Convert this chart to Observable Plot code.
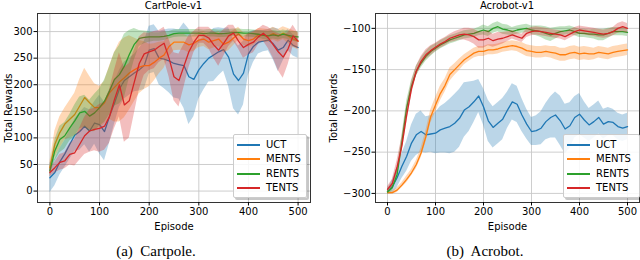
<!DOCTYPE html>
<html><head><meta charset="utf-8">
<script src="https://cdn.jsdelivr.net/npm/d3@7"></script>
<script src="https://cdn.jsdelivr.net/npm/@observablehq/plot@0.6"></script>
<style>
body{margin:0;background:#fff;}
#page{position:relative;width:640px;height:260px;overflow:hidden;font-family:"DejaVu Sans",sans-serif;color:#000;}
.panel{position:absolute;top:0;}
.title{position:absolute;top:0;font-size:10px;line-height:11px;text-align:center;}
.caption{position:absolute;top:244px;font-family:"Liberation Serif",serif;font-size:15px;line-height:15px;text-align:center;white-space:pre;}
.legend{position:absolute;top:134px;height:62px;background:rgba(255,255,255,0.85);border:1px solid #cccccc;border-radius:2px;box-shadow:2px 2px 0 rgba(0,0,0,0.22);font-size:10px;}
.row{position:absolute;left:0;width:100%;height:12px;}
.swatch{position:absolute;left:3px;top:5px;width:23px;height:2px;}
.lab{position:absolute;left:32px;top:0;line-height:12px;}
</style></head>
<body>
<div id="page"></div>
<script>
// ---- data ----
const names = ["UCT", "MENTS", "RENTS", "TENTS"];
const colors = ["#1f77b4", "#ff7f0e", "#2ca02c", "#d62728"];
const episodes = [0,10,20,30,40,50,60,70,80,90,100,110,120,130,140,150,160,170,180,190,200,210,220,230,240,250,260,270,280,290,300,310,320,330,340,350,360,370,380,390,400,410,420,430,440,450,460,470,480,490,500];
const xTicks = [0, 100, 200, 300, 400, 500];
const cartTicks = [0, 50, 100, 150, 200, 250, 300];
const acroTicks = [-300, -250, -200, -150, -100];

// CartPole-v1 : mean and spread
const cartUCT = [25,35,55,70,88,105,112,122,113,128,125,112,140,165,192,208,215,222,228,236,265,268,250,248,245,240,238,236,215,210,228,240,250,256,262,266,252,220,208,222,258,272,280,282,284,277,265,270,284,274,270];
const cartUCTsd = [28,25,25,25,28,30,35,35,40,40,55,55,50,40,35,35,35,35,40,45,45,45,50,55,60,65,65,80,90,70,55,50,45,50,45,40,55,65,65,60,40,30,22,20,20,30,40,25,20,20,20];
const cartMENTS = [44,88,110,126,135,144,160,176,166,157,157,166,185,195,205,213,222,228,233,236,236,242,250,256,272,280,280,280,275,278,284,286,280,283,286,276,280,288,296,286,283,286,294,293,292,296,292,297,292,286,282];
const cartMENTSsd = [10,25,30,30,35,40,50,55,50,45,40,40,50,65,75,75,70,60,50,45,40,35,30,25,20,16,15,15,15,15,14,14,14,14,14,16,16,14,12,12,12,12,12,12,12,12,12,12,14,16,16];
const cartRENTS = [38,76,97,104,119,132,147,150,141,147,157,169,188,210,219,235,257,276,287,289,290,290,290,291,293,296,297,297,297,297,297,296,297,297,296,296,297,298,298,297,297,296,295,293,292,294,292,295,293,291,290];
const cartRENTSsd = [8,20,25,25,25,30,30,30,30,35,35,40,45,50,55,60,45,30,15,12,10,8,8,8,7,7,7,7,7,7,7,7,7,7,7,7,7,7,7,7,7,7,7,8,8,8,8,8,8,9,10];
const cartTENTS = [35,44,54,57,69,72,88,104,113,116,118,122,140,172,200,162,170,205,240,258,262,265,272,278,250,215,208,235,262,280,293,293,288,275,265,278,292,297,282,270,276,280,290,297,288,275,262,252,268,292,282];
const cartTENTSsd = [8,10,15,15,20,25,30,35,40,40,45,45,50,55,60,70,70,60,50,40,35,35,30,30,35,45,50,40,30,20,15,15,20,25,30,25,20,15,15,20,20,20,15,15,20,25,35,40,30,20,15];

// Acrobot-v1 : mean and spread
const acroUCT = [-298,-292,-281,-267,-255,-239,-229,-225,-229,-228,-227,-223,-221,-219,-215,-209,-199,-195,-189,-182,-195,-212,-220,-215,-210,-199,-189,-192,-205,-216,-225,-224,-221,-213,-208,-205,-212,-222,-218,-208,-204,-211,-217,-213,-208,-216,-213,-214,-219,-221,-219];
const acroUCTsd = [3,8,12,15,18,22,25,25,22,22,25,28,30,33,35,35,33,30,25,20,22,25,25,25,25,22,22,22,20,18,17,18,20,22,25,28,30,30,28,25,25,22,20,20,20,18,17,16,16,16,16];
const acroMENTS = [-299,-299,-296,-290,-283,-275,-265,-251,-231,-207,-193,-179,-169,-156,-150,-144,-138,-134,-130,-128,-128,-126,-126,-125,-123,-122,-121,-122,-124,-127,-128,-129,-129,-128,-129,-130,-132,-132,-130,-129,-131,-130,-131,-131,-129,-130,-131,-129,-128,-127,-126];
const acroMENTSsd = [2,2,3,3,4,4,5,6,7,8,9,9,8,8,7,7,6,6,6,6,6,6,6,6,6,6,6,6,7,7,7,7,7,7,7,8,8,8,8,8,8,8,8,7,7,7,7,7,7,7,7];
const acroRENTS = [-298,-293,-277,-238,-196,-170,-152,-142,-134,-128,-124,-120,-117,-114,-112,-110,-108,-107,-106,-104,-102,-104,-100,-98,-101,-102,-104,-102,-101,-100,-102,-103,-104,-106,-108,-106,-104,-103,-102,-104,-106,-106,-107,-107,-108,-108,-106,-104,-104,-104,-105];
const acroRENTSsd = [3,4,6,8,8,7,6,6,6,6,5,5,5,5,5,5,5,5,5,5,6,6,6,6,6,6,5,5,5,5,5,6,7,8,8,7,6,5,5,5,5,5,5,6,7,7,6,5,5,5,5];
const acroTENTS = [-295,-288,-268,-242,-205,-173,-152,-140,-132,-127,-123,-119,-116,-112,-110,-108,-107,-108,-110,-114,-114,-112,-115,-113,-112,-110,-108,-110,-112,-106,-104,-103,-104,-105,-106,-107,-108,-110,-107,-104,-102,-103,-104,-105,-106,-107,-106,-104,-100,-98,-100];
const acroTENTSsd = [3,5,8,10,10,8,6,6,6,6,5,5,5,5,6,6,7,8,9,10,10,9,8,8,7,6,5,5,5,5,5,5,5,5,5,5,5,5,5,5,5,5,5,5,5,5,5,5,6,6,6];

function buildRows(means, sds) {
  return names.map((name, i) => episodes.map((ep, j) => ({
    series: name, ep, mean: means[i][j], lo: means[i][j] - sds[i][j], hi: means[i][j] + sds[i][j]
  })));
}
const cartRows = buildRows([cartUCT, cartMENTS, cartRENTS, cartTENTS], [cartUCTsd, cartMENTSsd, cartRENTSsd, cartTENTSsd]);
const acroRows = buildRows([acroUCT, acroMENTS, acroRENTS, acroTENTS], [acroUCTsd, acroMENTSsd, acroRENTSsd, acroTENTSsd]);

function chart(rowsBySeries, yDomain, yTicks, marginLeft, marginRight, yLabelOffset) {
  const seriesMarks = rowsBySeries.flatMap((rows, i) => [
    Plot.areaY(rows, {x: "ep", y1: "lo", y2: "hi", fill: colors[i], fillOpacity: 0.3}),
    Plot.lineY(rows, {x: "ep", y: "mean", stroke: colors[i], strokeWidth: 1.3})
  ]);
  return Plot.plot({
    width: 320, height: 232,
    marginLeft, marginRight, marginTop: 13, marginBottom: 30,
    style: {fontFamily: "DejaVu Sans", fontSize: "10px", color: "#000", background: "transparent"},
    x: {domain: [-25, 525]},
    y: {domain: yDomain},
    marks: [
      Plot.gridX(xTicks, {stroke: "#c8c8c8", strokeOpacity: 1, strokeWidth: 0.9}),
      Plot.gridY(yTicks, {stroke: "#c8c8c8", strokeOpacity: 1, strokeWidth: 0.9}),
      ...seriesMarks,
      Plot.frame({stroke: "#333", strokeWidth: 1}),
      Plot.axisX(xTicks, {tickSize: 3.5, tickPadding: 2, label: "Episode", labelAnchor: "center", labelArrow: "none", labelOffset: 27}),
      Plot.axisY(yTicks, {tickSize: 3.5, tickPadding: 1.5, label: "Total Rewards", labelAnchor: "center", labelArrow: "none", labelOffset: yLabelOffset})
    ]
  });
}

const page = document.getElementById("page");
function addPanel(svg, left) {
  const d = document.createElement("div");
  d.className = "panel"; d.style.left = left + "px";
  d.appendChild(svg); page.appendChild(d);
}
function addText(cls, text, left, width, top) {
  const d = document.createElement("div");
  d.className = cls; d.textContent = text;
  d.style.left = left + "px"; d.style.width = width + "px";
  if (top !== undefined) d.style.top = top + "px";
  page.appendChild(d);
}
function addLegend(left, width) {
  const box = document.createElement("div");
  box.className = "legend"; box.style.left = left + "px"; box.style.width = width + "px";
  names.forEach((n, i) => {
    const r = document.createElement("div");
    r.className = "row"; r.style.top = (3.5 + i * 14.5) + "px";
    const s = document.createElement("div"); s.className = "swatch"; s.style.background = colors[i];
    const l = document.createElement("div"); l.className = "lab"; l.textContent = n;
    r.appendChild(s); r.appendChild(l); box.appendChild(r);
  });
  page.appendChild(box);
}

addPanel(chart(cartRows, [-21.5, 334], cartTicks, 37, 10, 33), 0);
addPanel(chart(acroRows, [-311, -82], acroTicks, 55, 1, 46), 320);
addText("title", "CartPole-v1", 37, 273, 0);
addText("title", "Acrobot-v1", 375, 264, 0);
addText("caption", "(a)  Cartpole.", 56, 200);
addText("caption", "(b)  Acrobot.", 385, 200);
addLegend(233, 72);
addLegend(563, 75);
</script>
</body></html>
